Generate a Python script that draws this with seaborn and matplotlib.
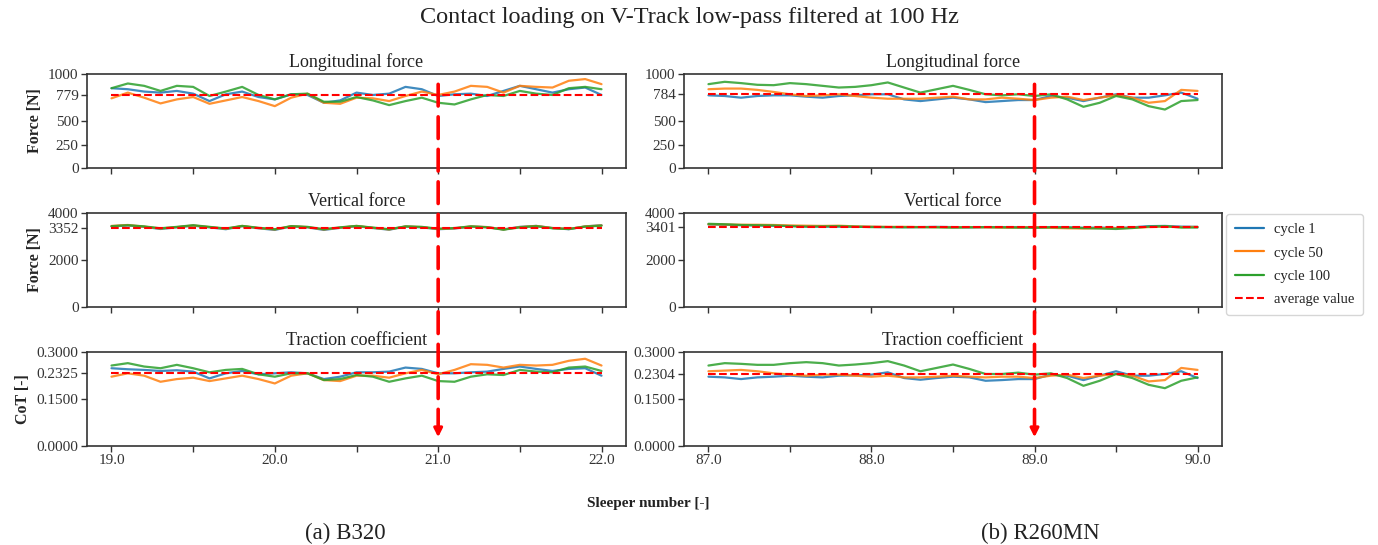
import numpy as np
import pandas as pd
import matplotlib
matplotlib.use("Agg")
import matplotlib.pyplot as plt
import seaborn as sns
from matplotlib.patches import ConnectionPatch
from matplotlib.lines import Line2D

# ---------------- data ----------------
sleepers_b320 = np.round(np.arange(19.0, 22.0001, 0.1), 1)
sleepers_r260 = np.round(np.arange(87.0, 90.0001, 0.1), 1)
cycles = ["cycle 1", "cycle 50", "cycle 100"]

# B320 longitudinal force [N]
b320_long_c1 = [849, 838, 813, 802, 820, 791, 712, 784, 813, 755, 730, 784, 777, 694, 719, 802,
                777, 791, 863, 838, 766, 784, 791, 766, 820, 874, 838, 802, 838, 856, 777]
b320_long_c50 = [741, 802, 748, 687, 730, 755, 683, 719, 755, 712, 658, 748, 791, 694, 683, 748,
                 741, 712, 766, 813, 777, 813, 874, 863, 802, 874, 863, 856, 928, 946, 892]
b320_long_c100 = [849, 899, 874, 820, 874, 863, 766, 813, 863, 777, 730, 784, 791, 705, 705, 755,
                  719, 669, 712, 748, 694, 676, 730, 777, 766, 820, 791, 777, 849, 863, 838]
# B320 vertical force [N]
b320_vert_c1 = [3430, 3470, 3410, 3320, 3390, 3460, 3390, 3310, 3440, 3350, 3280, 3430, 3390, 3280,
                3370, 3440, 3360, 3290, 3420, 3390, 3310, 3340, 3420, 3400, 3300, 3410, 3450, 3360,
                3310, 3430, 3480]
b320_vert_c50 = [3450, 3490, 3420, 3340, 3400, 3470, 3400, 3330, 3450, 3360, 3300, 3440, 3400, 3300,
                 3380, 3450, 3370, 3300, 3430, 3400, 3320, 3350, 3430, 3400, 3300, 3400, 3450, 3360,
                 3320, 3430, 3470]
b320_vert_c100 = [3440, 3480, 3430, 3350, 3410, 3480, 3410, 3340, 3450, 3370, 3310, 3440, 3410, 3310,
                  3390, 3450, 3380, 3310, 3430, 3410, 3330, 3360, 3430, 3390, 3290, 3390, 3440, 3350,
                  3320, 3420, 3460]
# B320 traction coefficient [-]
b320_cot_c1 = [0.2482, 0.2449, 0.2428, 0.2395, 0.2417, 0.2374, 0.2158, 0.2320, 0.2395, 0.2288,
               0.2320, 0.2352, 0.2320, 0.2136, 0.2212, 0.2352, 0.2352, 0.2374, 0.2503, 0.2460,
               0.2320, 0.2320, 0.2352, 0.2374, 0.2460, 0.2536, 0.2460, 0.2395, 0.2460, 0.2482, 0.2244]
b320_cot_c50 = [0.2212, 0.2320, 0.2244, 0.2050, 0.2136, 0.2180, 0.2072, 0.2158, 0.2244, 0.2136,
                0.1996, 0.2244, 0.2320, 0.2104, 0.2072, 0.2244, 0.2244, 0.2180, 0.2320, 0.2428,
                0.2288, 0.2428, 0.2611, 0.2590, 0.2503, 0.2590, 0.2568, 0.2590, 0.2719, 0.2784, 0.2568]
b320_cot_c100 = [0.2568, 0.2644, 0.2536, 0.2482, 0.2590, 0.2482, 0.2352, 0.2428, 0.2460, 0.2288,
                 0.2212, 0.2320, 0.2320, 0.2104, 0.2136, 0.2266, 0.2212, 0.2050, 0.2158, 0.2244,
                 0.2072, 0.2050, 0.2212, 0.2288, 0.2266, 0.2428, 0.2374, 0.2352, 0.2503, 0.2536, 0.2395]

# R260MN longitudinal force [N]
r260_long_c1 = [773, 766, 748, 766, 773, 773, 759, 748, 766, 773, 784, 784, 730, 712, 730, 748,
                730, 701, 712, 723, 723, 766, 748, 712, 748, 784, 748, 748, 773, 802, 737]
r260_long_c50 = [838, 845, 845, 831, 809, 784, 766, 773, 784, 766, 748, 737, 737, 737, 748, 759,
                 730, 730, 748, 737, 723, 748, 759, 723, 748, 773, 748, 694, 712, 831, 820]
r260_long_c100 = [892, 917, 903, 885, 881, 903, 892, 874, 856, 863, 881, 910, 856, 802, 838, 874,
                  831, 784, 773, 784, 766, 784, 730, 651, 694, 766, 730, 658, 622, 712, 723]
# R260MN vertical force [N]
r260_vert_c1 = [3510, 3500, 3480, 3470, 3460, 3450, 3430, 3420, 3420, 3410, 3410, 3400, 3400, 3400,
                3410, 3400, 3390, 3400, 3400, 3400, 3390, 3400, 3390, 3370, 3380, 3360, 3390, 3440,
                3450, 3420, 3410]
r260_vert_c50 = [3520, 3510, 3500, 3500, 3490, 3470, 3460, 3450, 3460, 3430, 3420, 3410, 3410, 3400,
                 3400, 3390, 3400, 3390, 3380, 3380, 3400, 3370, 3350, 3340, 3360, 3350, 3370, 3400,
                 3420, 3400, 3410]
r260_vert_c100 = [3540, 3520, 3490, 3480, 3470, 3440, 3420, 3430, 3440, 3420, 3400, 3400, 3390, 3400,
                  3390, 3380, 3390, 3400, 3390, 3380, 3370, 3390, 3380, 3360, 3340, 3320, 3360, 3420,
                  3440, 3380, 3380]
# R260MN traction coefficient [-]
r260_cot_c1 = [0.2212, 0.2190, 0.2136, 0.2190, 0.2212, 0.2244, 0.2212, 0.2190, 0.2244, 0.2255,
               0.2277, 0.2352, 0.2169, 0.2115, 0.2169, 0.2212, 0.2190, 0.2082, 0.2104, 0.2136,
               0.2136, 0.2277, 0.2244, 0.2104, 0.2244, 0.2385, 0.2244, 0.2244, 0.2298, 0.2385, 0.2169]
r260_cot_c50 = [0.2385, 0.2406, 0.2428, 0.2385, 0.2320, 0.2277, 0.2244, 0.2277, 0.2277, 0.2244,
                0.2212, 0.2244, 0.2190, 0.2190, 0.2212, 0.2244, 0.2212, 0.2190, 0.2212, 0.2212,
                0.2169, 0.2244, 0.2277, 0.2169, 0.2244, 0.2298, 0.2244, 0.2061, 0.2104, 0.2492, 0.2428]
r260_cot_c100 = [0.2568, 0.2644, 0.2622, 0.2590, 0.2590, 0.2644, 0.2676, 0.2644, 0.2568, 0.2600,
                 0.2644, 0.2708, 0.2568, 0.2385, 0.2492, 0.2600, 0.2460, 0.2298, 0.2298, 0.2341,
                 0.2277, 0.2320, 0.2169, 0.1921, 0.2082, 0.2298, 0.2169, 0.1953, 0.1845, 0.2082, 0.2190]

b320_avg = [779, 3352, 0.2325]
r260_avg = [784, 3401, 0.2304]
marked_sleeper = [21.0, 89.0]

row_titles = ["Longitudinal force", "Vertical force", "Traction coefficient"]
ylabels = ["Force [N]", "Force [N]", "CoT [-]"]
ylims = [1000, 4000, 0.3]
b320_yticks = [[0, 250, 500, 779, 1000], [0, 2000, 3352, 4000], [0.0, 0.15, 0.2325, 0.3]]
r260_yticks = [[0, 250, 500, 784, 1000], [0, 2000, 3401, 4000], [0.0, 0.15, 0.2304, 0.3]]
b320_xticks = [19.0, 19.5, 20.0, 20.5, 21.0, 21.5, 22.0]
r260_xticks = [87.0, 87.5, 88.0, 88.5, 89.0, 89.5, 90.0]

# ---------------- style ----------------
sns.set_style("ticks")
plt.rcParams["font.family"] = ["Liberation Serif", "DejaVu Serif"]
plt.rcParams["axes.edgecolor"] = "#333333"
plt.rcParams["xtick.color"] = "#333333"
plt.rcParams["ytick.color"] = "#333333"
plt.rcParams["text.color"] = "#222222"

palette = ["#1f77b4", "#ff7f0e", "#2ca02c"]

W, H = 1378, 545
fig = plt.figure(figsize=(W / 100, H / 100), dpi=100)

col_left = [87 / W, 684 / W]
col_width = [539 / W, 538 / W]
row_top = [74, 213, 352]
row_h = 94

datasets = [
    (sleepers_b320, [[b320_long_c1, b320_long_c50, b320_long_c100],
                     [b320_vert_c1, b320_vert_c50, b320_vert_c100],
                     [b320_cot_c1, b320_cot_c50, b320_cot_c100]], b320_avg, b320_yticks, b320_xticks),
    (sleepers_r260, [[r260_long_c1, r260_long_c50, r260_long_c100],
                     [r260_vert_c1, r260_vert_c50, r260_vert_c100],
                     [r260_cot_c1, r260_cot_c50, r260_cot_c100]], r260_avg, r260_yticks, r260_xticks),
]

axes = [[None] * 3 for _ in range(2)]
for c, (xs, rows, avgs, yticks, xticks) in enumerate(datasets):
    for r in range(3):
        ax = fig.add_axes([col_left[c], 1 - (row_top[r] + row_h) / H, col_width[c], row_h / H])
        axes[c][r] = ax
        frames = []
        for name, vals in zip(cycles, rows[r]):
            frames.append(pd.DataFrame({"sleeper": xs, "value": vals, "cycle": name}))
        df = pd.concat(frames, ignore_index=True)
        sns.lineplot(data=df, x="sleeper", y="value", hue="cycle", hue_order=cycles,
                     palette=palette, ax=ax, legend=False, linewidth=1.6, alpha=0.85)
        avg_df = pd.DataFrame({"sleeper": [xs[0], xs[-1]], "value": [avgs[r], avgs[r]]})
        sns.lineplot(data=avg_df, x="sleeper", y="value", ax=ax, color="red",
                     linestyle="--", linewidth=1.5)
        ax.set_ylim(0, ylims[r])
        ax.set_xlim(xs[0] - 0.15, xs[-1] + 0.15)
        ax.set_yticks(yticks[r])
        if r == 2:
            ax.set_yticklabels([f"{v:.4f}" for v in yticks[r]], fontsize=11)
        else:
            ax.set_yticklabels([f"{v:g}" for v in yticks[r]], fontsize=11)
        ax.set_xticks(xticks)
        if r == 2:
            ax.set_xticklabels([f"{v:.1f}" if float(v).is_integer() else "" for v in xticks],
                               fontsize=11)
        else:
            ax.set_xticklabels([])
        ax.tick_params(length=4, width=1, pad=2)
        ax.set_xlabel("")
        ax.set_ylabel(ylabels[r] if c == 0 else "", fontsize=11.5, fontweight="bold")
        ax.set_title(row_titles[r], fontsize=13, pad=5)
        for s in ax.spines.values():
            s.set_linewidth(1.2)

# red dashed marker arrows spanning the three rows
for c in range(2):
    xm = marked_sleeper[c]
    top_ax, bot_ax = axes[c][0], axes[c][2]
    con = ConnectionPatch(xyA=(xm, 890), coordsA=top_ax.transData,
                          xyB=(xm, 0.05), coordsB=bot_ax.transData,
                          color="red", linewidth=2.6, linestyle=(0, (6, 3)), zorder=10)
    fig.add_artist(con)
    bot_ax.annotate("", xy=(xm, 0.028), xytext=(xm, 0.052),
                    arrowprops=dict(arrowstyle="-|>,head_length=0.5,head_width=0.25",
                                    color="red", lw=2.2, shrinkA=0, shrinkB=0), zorder=11)

# legend
handles = [Line2D([0], [0], color=col, lw=1.6) for col in palette]
handles.append(Line2D([0], [0], color="red", lw=1.5, linestyle="--"))
axes[1][1].legend(handles, cycles + ["average value"], loc="center left",
                  bbox_to_anchor=(1.002, 0.45), fontsize=10.5, frameon=True,
                  handlelength=2.0, handletextpad=0.7, borderpad=0.6, labelspacing=0.7,
                  borderaxespad=0.2)

fig.text(0.5, 1 - 18 / H, "Contact loading on V-Track low-pass filtered at 100 Hz",
         ha="center", va="center", fontsize=17.5)
fig.text(648 / W, 1 - 503 / H, "Sleeper number [-]", ha="center", va="center",
         fontsize=11, fontweight="bold")
fig.text(345 / W, 1 - 533 / H, "(a) B320", ha="center", va="center", fontsize=16.5)
fig.text(1040 / W, 1 - 533 / H, "(b) R260MN", ha="center", va="center", fontsize=16.5)

fig.savefig("out.png", dpi=100)
